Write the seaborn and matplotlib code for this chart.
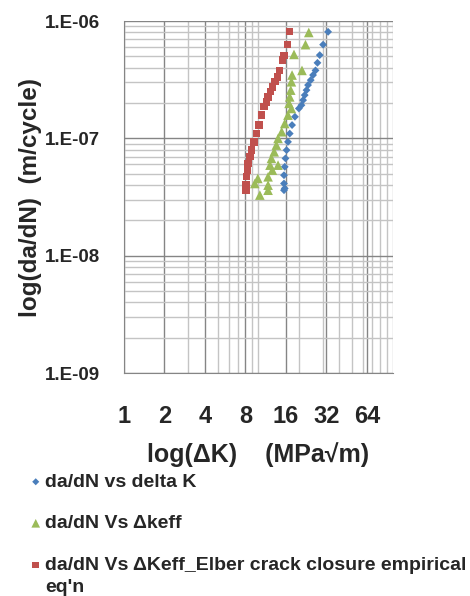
import matplotlib
matplotlib.use("Agg")
import matplotlib.pyplot as plt
import seaborn as sns
import pandas as pd

# da/dN vs delta K (blue diamonds)
blue_k = [33.0, 30.3, 28.6, 27.5, 26.6, 25.5, 24.5, 23.4, 22.8, 22.1, 21.5, 20.9,
          20.0, 18.7, 17.8, 17.1, 16.6, 16.2, 15.9, 15.7, 15.5, 15.5, 15.7, 15.5]
blue_y = [8.1e-7, 6.3e-7, 5.13e-7, 4.41e-7, 3.8e-7, 3.47e-7, 3.14e-7, 2.85e-7,
          2.58e-7, 2.34e-7, 2.12e-7, 1.92e-7, 1.80e-7, 1.53e-7, 1.30e-7, 1.10e-7,
          9.35e-8, 7.95e-8, 6.76e-8, 5.73e-8, 4.86e-8, 4.13e-8, 3.75e-8, 3.62e-8]

# da/dN vs dKeff (green triangles)
green_k = [23.7, 22.4, 18.4, 21.1, 17.8, 17.6, 17.4, 17.1, 16.9, 17.6, 16.6, 15.7, 14.9,
           14.0, 13.6, 13.1, 12.5, 12.2, 14.0, 12.7, 11.8, 11.8, 9.9, 10.25, 9.4, 11.8]
green_y = [8.0e-7, 6.3e-7, 5.2e-7, 3.8e-7, 3.47e-7, 3.04e-7, 2.58e-7, 2.26e-7, 1.99e-7,
           1.80e-7, 1.58e-7, 1.34e-7, 1.14e-7, 1.0e-7, 8.77e-8, 7.69e-8, 6.76e-8,
           5.92e-8, 5.92e-8, 5.37e-8, 4.71e-8, 4.0e-8, 4.56e-8, 3.29e-8, 4.13e-8, 3.62e-8]

# da/dN vs dKeff, Elber closure (red squares)
red_k = [17.1, 16.4, 15.5, 15.1, 14.3, 13.8, 13.3, 12.7, 12.3, 11.8, 11.5, 11.0, 10.6,
         10.1, 9.7, 9.3, 8.9, 8.64, 8.39, 8.25, 8.17, 8.07, 8.07]
red_y = [8.2e-7, 6.3e-7, 5.1e-7, 4.65e-7, 3.8e-7, 3.35e-7, 3.04e-7, 2.75e-7, 2.5e-7,
         2.26e-7, 2.05e-7, 1.86e-7, 1.58e-7, 1.30e-7, 1.10e-7, 9.35e-8, 7.95e-8,
         6.97e-8, 6.12e-8, 5.37e-8, 4.71e-8, 4.0e-8, 3.62e-8]

labels = ["da/dN vs delta K",
          "da/dN Vs \u0394keff",
          "da/dN Vs \u0394Keff_Elber crack closure empirical"]
label_tail = "eq'n"
x_ticks = [1, 2, 4, 8, 16, 32, 64]
x_minor = [3, 5, 6, 7, 9, 10, 20, 30, 40, 50, 60, 70, 80, 90, 100]
y_ticks = [1e-9, 1e-8, 1e-7, 1e-6]
y_ticklabels = ["1.E-09", "1.E-08", "1.E-07", "1.E-06"]

sns.set_style("white")
plt.rcParams["font.family"] = ["Liberation Sans", "DejaVu Sans"]
plt.rcParams["font.weight"] = "bold"

fig = plt.figure(figsize=(4.7, 5.96), dpi=100)
ax = fig.add_axes([0.2638, 0.374, 0.572, 0.5906])

series = [
    (blue_k, blue_y, labels[0], "D", "#4a7ebb", 16),
    (green_k, green_y, labels[1], "^", "#9bbb59", 48),
    (red_k, red_y, labels[2], "s", "#c0504d", 28),
]
for k, y, lab, mk, col, size in series:
    df = pd.DataFrame({"K": k, "dadn": y})
    sns.scatterplot(data=df, x="K", y="dadn", marker=mk, color=col, s=size,
                    edgecolor="none", label=lab, ax=ax, zorder=3)

ax.set_xscale("log", base=2)
ax.set_yscale("log")
ax.set_xlim(1, 100)
ax.set_ylim(1e-9, 1e-6)

ax.set_xticks(x_ticks)
ax.set_xticklabels([str(t) for t in x_ticks])
ax.set_xticks(x_minor, minor=True)
ax.set_xticklabels([], minor=True)
ax.set_yticks(y_ticks)
ax.set_yticklabels(y_ticklabels)

ax.grid(True, which="major", color="#858585", lw=1.0)
ax.grid(True, which="minor", color="#c4c4c4", lw=1.0)
ax.tick_params(axis="both", which="both", length=0)
ax.tick_params(axis="x", labelsize=17, pad=23)
ax.tick_params(axis="y", labelsize=13.5, pad=17)
for s in ["top", "right"]:
    ax.spines[s].set_visible(False)
for s in ["left", "bottom"]:
    ax.spines[s].set_color("#858585")

ax.set_xlabel("log(\u0394K)    (MPa\u221am)", fontsize=18, fontweight="bold", labelpad=10)
ax.set_ylabel("log(da/dN)  (m/cycle)", fontsize=17.5, fontweight="bold", labelpad=2)

handles, labs = ax.get_legend_handles_labels()
ax.get_legend().remove()
fig.legend(handles, labs, loc="upper left", bbox_to_anchor=(0.045, 0.219),
           frameon=False, prop={"size": 14, "weight": "bold"},
           labelspacing=1.23, handletextpad=0.15, handlelength=0.7,
           borderaxespad=0, markerscale=0.9)
fig.text(45 / 470, 1 - 587 / 596, label_tail, fontsize=14, fontweight="bold",
         ha="left", va="center")

fig.savefig("out.png", dpi=100)
